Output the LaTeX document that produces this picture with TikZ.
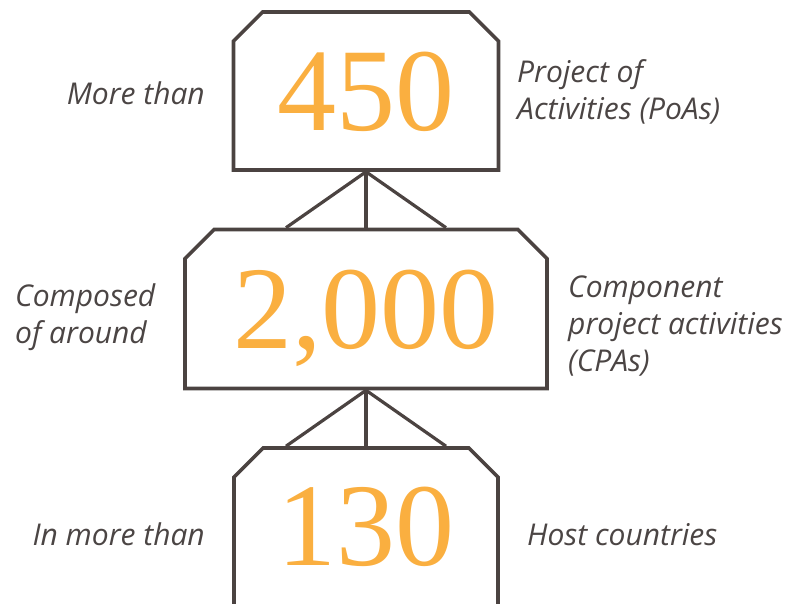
\documentclass[tikz,border=0pt]{standalone}
\usepackage{fontspec}
\setmainfont{Liberation Serif}
\newfontfamily\labelfont{Open Sans}
\usetikzlibrary{shapes.misc}

\definecolor{frame}{HTML}{4B4341}
\definecolor{figure}{HTML}{FAAF40}
\definecolor{caption}{HTML}{4B4544}

\begin{document}
\begin{tikzpicture}[
  x=1pt, y=-1pt,
  box/.style={chamfered rectangle, chamfered rectangle corners={north west,north east},
    chamfered rectangle xsep=26pt, draw=frame, line width=3.6pt, inner sep=0pt,
    text depth=0pt, text=figure, font=\fontsize{118}{118}\selectfont},
  link/.style={draw=frame, line width=3.2pt},
  side/.style={font=\labelfont\itshape\fontsize{30}{37}\selectfont, text=caption, inner sep=0pt},
]
\useasboundingbox (0,0) rectangle (792,604);

% the three levels
\node[box, minimum width=265pt, minimum height=158pt] (poa) at (366,91) {450};
\node[box, minimum width=362pt, minimum height=159pt] (cpa) at (366,309) {2,000};
\node[box, minimum width=264pt, minimum height=240pt, text depth=84pt] (host) at (366,568) {130};

% links between levels
\foreach \dx in {-80,0,80} {
  \draw[link] (poa.south) -- ([xshift=\dx pt]cpa.north);
  \draw[link] (cpa.south) -- ([xshift=\dx pt]host.north);
}

% captions (base = last line)
\node[side, anchor=base east] (morethan) at (205,105) {More than};
\node[side, align=left, anchor=base west] (poas) at (517,120) {Project of\\Activities (PoAs)};
\node[side, align=left, anchor=base west] (around) at (15,343) {Composed\\of around};
\node[side, align=left, anchor=base west] (cpas) at (568,371) {Component\\project activities\\(CPAs)};
\node[side, anchor=base east] (inmore) at (205,545) {In more than};
\node[side, anchor=base west] (countries) at (527,545) {Host countries};
\end{tikzpicture}
\end{document}
